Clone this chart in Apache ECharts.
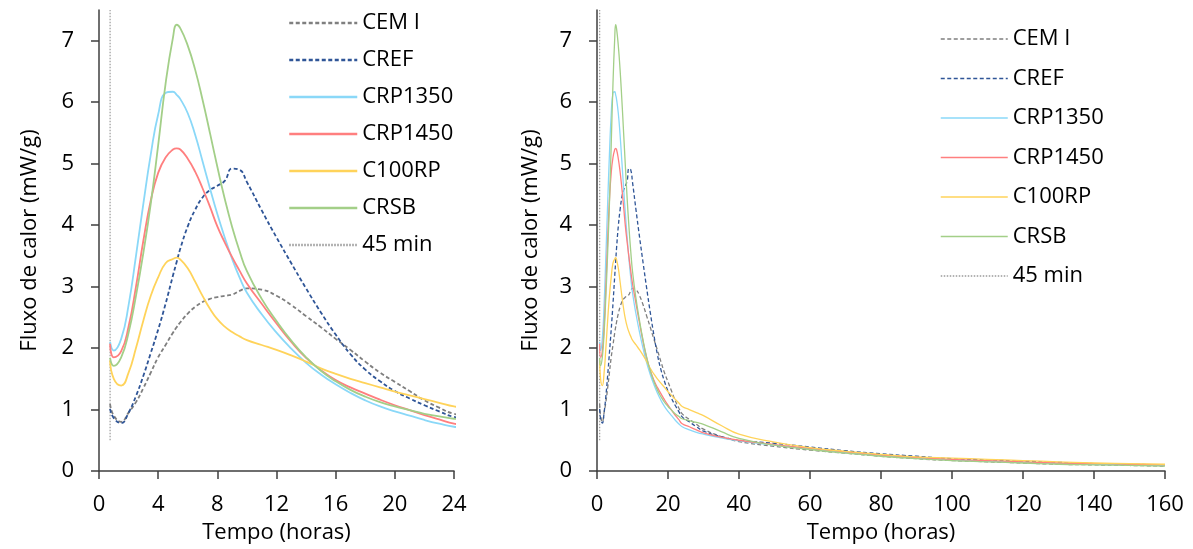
<!DOCTYPE html>
<html>
<head>
<meta charset="utf-8">
<script src="https://cdn.jsdelivr.net/npm/echarts@6/dist/echarts.min.js"></script>
<style>
  html, body { margin: 0; padding: 0; background: #fff; }
  #chart { width: 1193px; height: 549px; }
</style>
</head>
<body>
<div id="chart"></div>
<script>
// tempo (horas) - mesma base para os dois graficos
const times = [0.75, 1, 1.5, 2, 2.5, 3, 3.5, 4, 4.5, 5, 5.25, 5.5, 6, 6.5, 7, 7.5, 8, 8.5, 9, 9.5, 10,
  11, 12, 13, 14, 15, 16, 17, 18, 19, 20, 21, 22, 23, 24,
  26, 28, 30, 35, 40, 50, 60, 70, 80, 90, 100, 110, 120, 130, 140, 150, 160]

// fluxo de calor (mW/g)
const cemI = [1.09, 0.9, 0.8, 0.95, 1.12, 1.35, 1.6, 1.85, 2.05, 2.25, 2.34, 2.42, 2.56, 2.67, 2.75, 2.8, 2.83, 2.85, 2.87, 2.93, 2.97,
  2.95, 2.85, 2.7, 2.52, 2.34, 2.15, 1.97, 1.78, 1.6, 1.45, 1.3, 1.15, 1.03, 0.93,
  0.84, 0.76, 0.68, 0.56, 0.48, 0.4, 0.34, 0.29, 0.24, 0.2, 0.17, 0.15, 0.13, 0.11, 0.1, 0.09, 0.08]
const cref = [1.01, 0.86, 0.78, 0.95, 1.22, 1.55, 1.92, 2.3, 2.72, 3.18, 3.4, 3.62, 3.98, 4.25, 4.45, 4.57, 4.64, 4.72, 4.92, 4.9, 4.7,
  4.24, 3.8, 3.38, 2.97, 2.58, 2.22, 1.9, 1.65, 1.46, 1.3, 1.18, 1.07, 0.97, 0.88,
  0.8, 0.72, 0.65, 0.56, 0.5, 0.45, 0.39, 0.33, 0.28, 0.24, 0.2, 0.18, 0.16, 0.14, 0.12, 0.11, 0.1]
const crp1350 = [2.1, 1.96, 2.15, 2.7, 3.5, 4.35, 5.15, 5.8, 6.15, 6.17, 6.12, 6.05, 5.82, 5.47, 5.04, 4.6, 4.18, 3.8, 3.45, 3.15, 2.9,
  2.55, 2.25, 1.99, 1.76, 1.57, 1.41, 1.27, 1.15, 1.05, 0.97, 0.9, 0.83, 0.77, 0.72,
  0.67, 0.63, 0.6, 0.54, 0.49, 0.42, 0.36, 0.3, 0.25, 0.21, 0.18, 0.16, 0.14, 0.12, 0.11, 0.1, 0.09]
const crp1450 = [2.07, 1.85, 1.95, 2.35, 3.0, 3.75, 4.4, 4.85, 5.1, 5.23, 5.25, 5.23, 5.08, 4.87, 4.6, 4.3, 3.98, 3.72, 3.48, 3.26, 3.05,
  2.72, 2.4, 2.1, 1.84, 1.64, 1.48, 1.36, 1.26, 1.16, 1.07, 0.99, 0.91, 0.84, 0.77,
  0.72, 0.67, 0.62, 0.55, 0.5, 0.43, 0.37, 0.31, 0.26, 0.22, 0.19, 0.17, 0.15, 0.13, 0.12, 0.11, 0.1]
const c100rp = [1.8, 1.5, 1.39, 1.6, 2.0, 2.45, 2.85, 3.15, 3.38, 3.45, 3.47, 3.44, 3.3, 3.08, 2.85, 2.64, 2.47, 2.35, 2.26, 2.19, 2.13,
  2.05, 1.97, 1.88, 1.78, 1.67, 1.58, 1.5, 1.43, 1.36, 1.29, 1.23, 1.17, 1.11, 1.05,
  1.0, 0.95, 0.9, 0.74, 0.6, 0.47, 0.38, 0.32, 0.27, 0.23, 0.21, 0.19, 0.17, 0.15, 0.13, 0.12, 0.11]
const crsb = [1.84, 1.71, 1.85, 2.25, 2.85, 3.55, 4.35, 5.3, 6.3, 7.05, 7.26, 7.2, 6.92, 6.53, 6.04, 5.5, 4.95, 4.43, 3.97, 3.58, 3.25,
  2.8, 2.44, 2.12, 1.85, 1.63, 1.46, 1.32, 1.21, 1.12, 1.05, 0.99, 0.93, 0.89, 0.85,
  0.82, 0.79, 0.76, 0.64, 0.53, 0.42, 0.35, 0.29, 0.24, 0.2, 0.17, 0.15, 0.13, 0.11, 0.1, 0.09, 0.08]

// linha vertical dos 45 min
const line45x = [0.75, 0.75]
const line45y = [0.5, 7.5]

const yTicks = [0, 1, 2, 3, 4, 5, 6, 7]
const xMaxLeft = 24
const xMaxRight = 160

const FONT = 'Open Sans'
const TXT = '#000'
const AXIS = '#3f3f3f'

const curves = [
  { name: 'CEM I', data: cemI, color: '#7f7f7f', dash: [4, 2.5] },
  { name: 'CREF', data: cref, color: '#2f5597', dash: [4, 2.5] },
  { name: 'CRP1350', data: crp1350, color: '#8ad8f8', dash: 'solid' },
  { name: 'CRP1450', data: crp1450, color: '#ff7f7f', dash: 'solid' },
  { name: 'C100RP', data: c100rp, color: '#ffd35a', dash: 'solid' },
  { name: 'CRSB', data: crsb, color: '#a3cf88', dash: 'solid' }
]

const pairs = (xs, ys) => xs.map((x, i) => [x, ys[i]])

const buildSeries = (idx, width) => {
  const list = curves.map(c => ({
    name: c.name,
    type: 'line',
    xAxisIndex: idx,
    yAxisIndex: idx,
    data: pairs(times, c.data),
    smooth: 0.5,
    symbol: 'none',
    lineStyle: { color: c.color, width: width, type: c.dash },
    itemStyle: { color: c.color },
    z: 3
  }))
  list.push({
    name: '45 min',
    type: 'line',
    xAxisIndex: idx,
    yAxisIndex: idx,
    data: pairs(line45x, line45y),
    symbol: 'none',
    lineStyle: { color: '#9a9a9a', width: 1.2, type: [1.5, 1.5] },
    itemStyle: { color: '#9a9a9a' },
    z: 2
  })
  return list
}

const xAxisOf = (idx, max, interval) => ({
  type: 'value',
  gridIndex: idx,
  min: 0,
  max: max,
  interval: interval,
  name: 'Tempo (horas)',
  nameLocation: 'middle',
  nameGap: 51,
  nameTextStyle: { fontFamily: FONT, fontSize: 22, color: TXT },
  splitLine: { show: false },
  axisLine: { show: true, lineStyle: { color: AXIS, width: 1.5 } },
  axisTick: { show: true, inside: false, length: 8, lineStyle: { color: AXIS, width: 1.5 } },
  axisLabel: { margin: 23, fontFamily: FONT, fontSize: 22, color: TXT }
})

const yAxisOf = (idx, gap) => ({
  type: 'value',
  gridIndex: idx,
  min: 0,
  max: 7.5,
  name: 'Fluxo de calor (mW/g)',
  nameLocation: 'middle',
  nameGap: gap,
  nameTextStyle: { fontFamily: FONT, fontSize: 22, color: TXT },
  splitLine: { show: false },
  axisLine: { show: true, lineStyle: { color: AXIS, width: 1.5 } },
  axisTick: { show: true, inside: false, length: 8, customValues: yTicks, lineStyle: { color: AXIS, width: 1.5 } },
  axisLabel: { margin: 25, fontFamily: FONT, fontSize: 22, color: TXT, customValues: yTicks }
})

// legenda sem o simbolo do ponto, so a linha
const legendOf = (left, top, gap, width, lw) => ({
  orient: 'vertical',
  left: left,
  top: top,
  itemWidth: width,
  itemHeight: 14,
  itemGap: gap,
  selectedMode: false,
  itemStyle: { opacity: 0 },
  lineStyle: { width: lw },
  textStyle: { fontFamily: FONT, fontSize: 22, color: TXT },
  data: curves.map(c => c.name).concat(['45 min'])
})

const chart = echarts.init(document.getElementById('chart'), null, { renderer: 'canvas' })

const option = {
  backgroundColor: '#fff',
  animation: false,
  grid: [
    { left: 99, top: 10, width: 355, height: 461 },
    { left: 597, top: 10, width: 568, height: 461 }
  ],
  legend: [
    legendOf(283, 7, 15, 68, 2.5),
    legendOf(935, 23, 17.5, 67, 1.5)
  ],
  xAxis: [xAxisOf(0, xMaxLeft, 4), xAxisOf(1, xMaxRight, 20)],
  yAxis: [yAxisOf(0, 58), yAxisOf(1, 55)],
  series: buildSeries(0, 1.8).concat(buildSeries(1, 1.3))
}

chart.setOption(option)
</script>
</body>
</html>
